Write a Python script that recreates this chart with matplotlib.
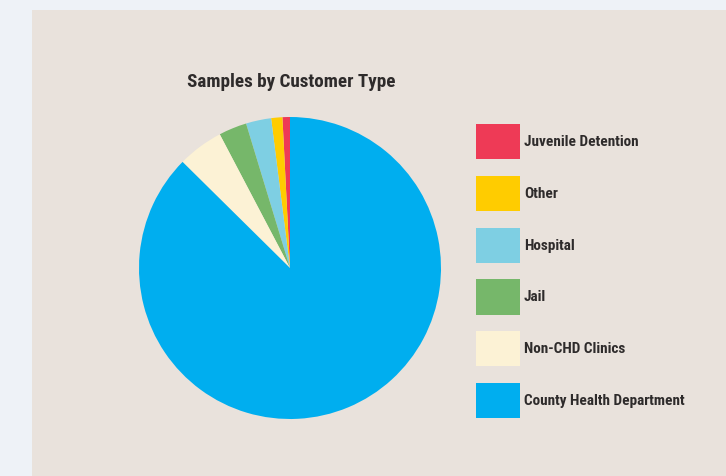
import matplotlib
matplotlib.use("Agg")
import matplotlib.pyplot as plt
from matplotlib.patches import Rectangle

plt.rcParams['font.family'] = ['Roboto Condensed', 'DejaVu Sans']

# data (percent share of samples)
labels = ["Juvenile Detention", "Other", "Hospital", "Jail",
          "Non-CHD Clinics", "County Health Department"]
values = [0.8, 1.2, 2.7, 3.0, 4.9, 87.4]
colors = ["#EE3A56", "#FFCC00", "#7ECFE3", "#76B76A", "#FCF2D5", "#00AEEF"]

W, H = 726, 476
fig = plt.figure(figsize=(W / 100, H / 100), dpi=100)
fig.patch.set_facecolor("#EEF2F7")

# beige panel
fig.patches.append(Rectangle((32 / W, 0), 1 - 32 / W, (H - 10) / H,
                             transform=fig.transFigure, facecolor="#E9E2DC",
                             edgecolor="none", zorder=-1))

cx, cy, r = 290, 268, 151
ax = fig.add_axes([(cx - r) / W, (H - cy - r) / H, 2 * r / W, 2 * r / H])
ax.set_zorder(1)
wedges, _ = ax.pie(values, colors=colors, startangle=90, counterclock=True,
                   radius=1, wedgeprops=dict(linewidth=0))
ax.set_xlim(-1, 1)
ax.set_ylim(-1, 1)
ax.set_aspect("equal")
ax.axis("off")

fig.text(291 / W, 1 - 82 / H, "Samples by Customer Type", ha="center",
         va="center", fontsize=13.8, fontweight="bold", color="#2E2B2B",
         zorder=2)

fs = 11
leg = fig.legend(wedges, labels, loc="upper left",
                 bbox_to_anchor=(476 / W, 1 - 124 / H), frameon=False,
                 prop=dict(weight="bold", size=fs),
                 handlelength=2.88, handleheight=3.15, labelspacing=1.1,
                 handletextpad=0.26, borderpad=0, borderaxespad=0,
                 labelcolor="#2E2B2B")
leg.set_zorder(2)

fig.savefig("out.png", dpi=100, facecolor=fig.get_facecolor())
